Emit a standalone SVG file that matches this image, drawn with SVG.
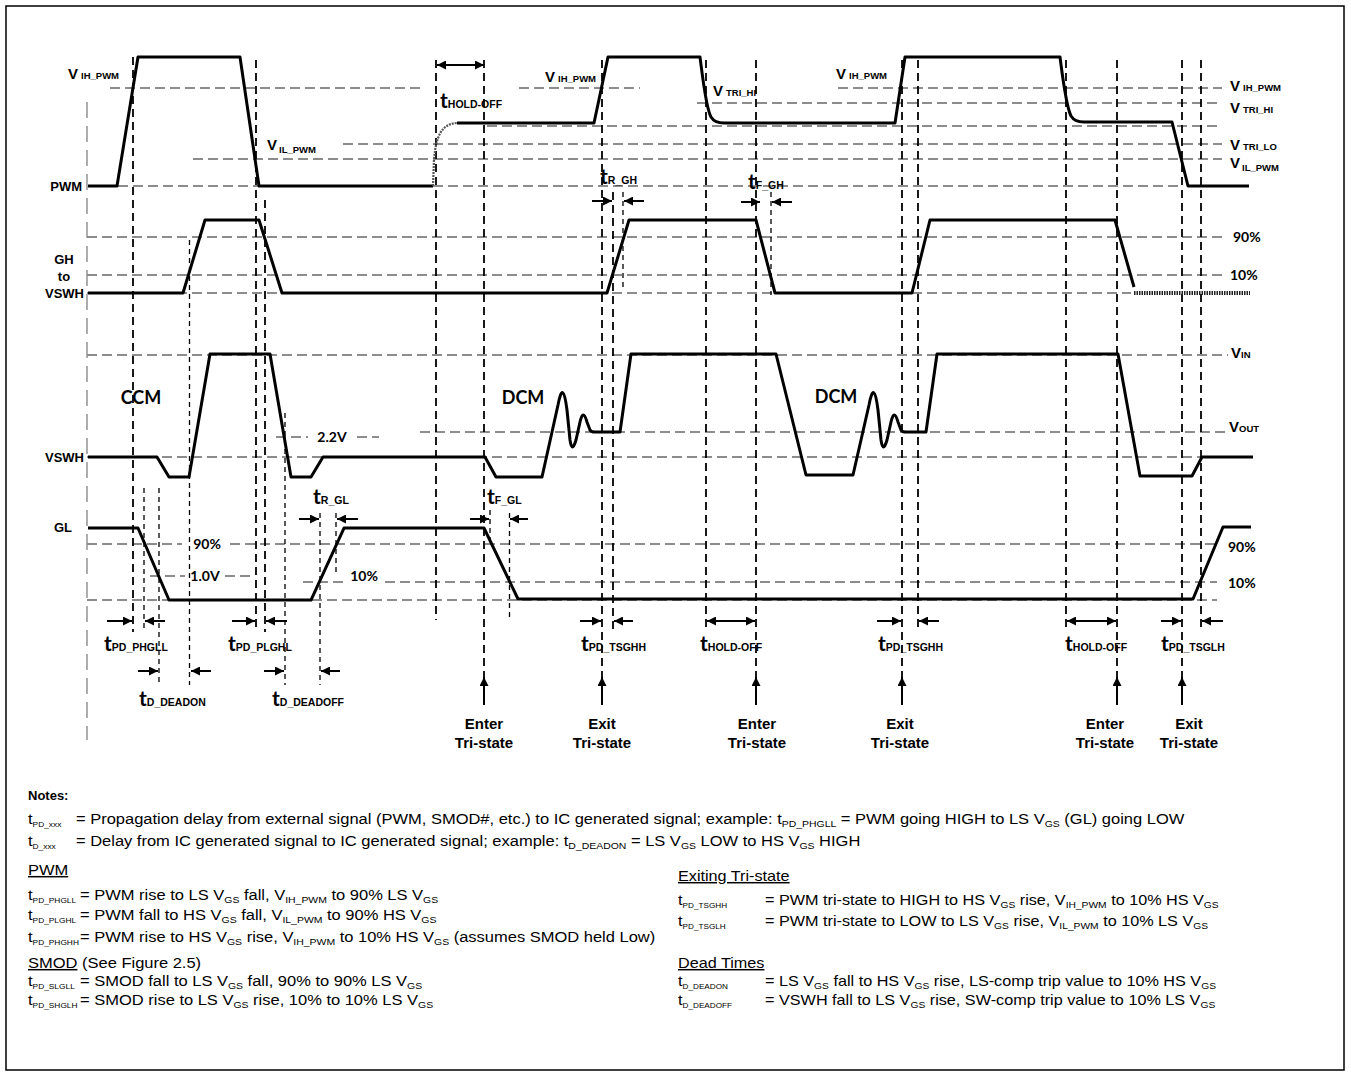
<svg xmlns="http://www.w3.org/2000/svg" width="1351" height="1076" viewBox="0 0 1351 1076">
<style>
.w{fill:none;stroke:#000;stroke-width:3;stroke-linejoin:round}
.g{fill:none;stroke:#8c8c8c;stroke-width:2;stroke-dasharray:10 5}
.v{fill:none;stroke:#000;stroke-width:1.8;stroke-dasharray:8 5}
.vs{fill:none;stroke:#000;stroke-width:1.3;stroke-dasharray:5 4}
.lg{fill:none;stroke:#9a9a9a;stroke-width:1.6;stroke-dasharray:16 8}
.a{fill:none;stroke:#000;stroke-width:2;marker-end:url(#ah)}
.d{fill:none;stroke:#000;stroke-width:2;marker-end:url(#ah);marker-start:url(#ah)}
text{font-family:"Liberation Sans",Arial,sans-serif;fill:#000}
.lb{font-weight:bold;font-size:13px}
.big{font-weight:bold;font-size:15px}
.sm{font-weight:bold;font-size:9.5px}
.tt{font-family:Lato,"Liberation Sans",sans-serif;font-weight:bold;font-size:21px}
.ts{font-weight:bold;font-size:10.5px}
.cal{font-family:Lato,"Liberation Sans",sans-serif;font-weight:bold}
.n{font-size:15px}
.ns{font-size:9.5px}
.nl{font-size:7.6px}
</style>
<defs>
<marker id="ah" viewBox="0 0 10 10" refX="10" refY="5" markerWidth="9" markerHeight="9" markerUnits="userSpaceOnUse" orient="auto-start-reverse"><path d="M0,0 L10,5 L0,10 z" fill="#000"/></marker>
</defs>
<rect x="6" y="6" width="1338" height="1064" fill="#fff" stroke="#000" stroke-width="1.5"/>

<g id="gridlines">
<path class="lg" d="M87,102 V740"/>
<path class="g" d="M110,88 H420 M519,88 H640 M838,88 H1222"/>
<path class="g" d="M697,103 H1222"/>
<path class="g" d="M487,126 H1222"/>
<path class="g" d="M343,144 H1222"/>
<path class="g" d="M193,159 H1222"/>
<path class="g" d="M88,186 H1183"/>
<path class="g" d="M87,237 H1226"/>
<path class="g" d="M87,275 H1226"/>
<path class="g" d="M87,293 H1131"/>
<path class="g" d="M87,355 H1228"/>
<path class="g" d="M420,432 H1228"/>
<path class="g" d="M276,437 H308 M357,437 H379"/>
<path class="g" d="M87,457 H1230"/>
<path class="g" d="M87,544 H182 M230,544 H1217"/>
<path class="g" d="M150,576 H185 M225,576 H250"/>
<path class="g" d="M303,582 H344 M385,582 H1217"/>
<path class="g" d="M87,600 H1217"/>
</g>

<g id="verticals">
<path class="v" d="M133,57 V632 M256,60 V632 M265,200 V632 M436,60 V620 M484,60 V677 M602,60 V677 M613,192 V630 M706,60 V627 M756,60 V677 M902,60 V677 M918,60 V627 M1066,60 V627 M1117,60 V677 M1182,60 V677 M1201,60 V627"/>
<path class="vs" d="M144,488 V630 M159,488 V685 M189.5,240 V685 M285,413 V685 M320,513 V685 M336,513 V575 M490,510 V545 M509.5,513 V620 M623,192 V290 M771,192 V295"/>
</g>

<g id="signal-PWM">
<text class="lb" x="82" y="191" text-anchor="end">PWM</text>
<path class="w" d="M88,186 L117,186 L138,57 L240,57 L259,186 L433,186"/>
<path d="M433,186 L434,160 C436,135 442,124 457,123" fill="none" stroke="#555" stroke-width="2.2" stroke-dasharray="2 1"/>
<path class="w" d="M457,123 L594,123 L608,57 L700,57 C703,80 706,108 711,117 C714,122 718,123 724,123 L895,123 L905,57 L1060,57 C1063,80 1066,106 1071,116 C1074,121 1078,122 1084,122 L1172,122 L1188,186 L1249,186"/>
<text x="68" y="79"><tspan class="big">V</tspan><tspan class="sm" dx="3">IH_PWM</tspan></text>
<text x="267" y="150"><tspan class="big">V</tspan><tspan class="sm" dx="2" dy="3">IL_PWM</tspan></text>
<text x="545" y="82"><tspan class="big">V</tspan><tspan class="sm" dx="3">IH_PWM</tspan></text>
<text x="713" y="96"><tspan class="big">V</tspan><tspan class="sm" dx="3">TRI_HI</tspan></text>
<text x="836" y="79"><tspan class="big">V</tspan><tspan class="sm" dx="3">IH_PWM</tspan></text>
<text x="1230" y="91"><tspan class="big">V</tspan><tspan class="sm" dx="3">IH_PWM</tspan></text>
<text x="1230" y="113"><tspan class="big">V</tspan><tspan class="sm" dx="3">TRI_HI</tspan></text>
<text x="1230" y="150"><tspan class="big">V</tspan><tspan class="sm" dx="3">TRI_LO</tspan></text>
<text x="1230" y="168"><tspan class="big">V</tspan><tspan class="sm" dx="2" dy="3">IL_PWM</tspan></text>
<path class="d" d="M437,65 H484"/>
<text x="440" y="108"><tspan class="tt">t</tspan><tspan class="ts">HOLD-OFF</tspan></text>
</g>

<g id="signal-GH">
<text class="lb" x="64" y="264" text-anchor="middle">GH</text>
<text class="lb" x="64" y="281" text-anchor="middle">to</text>
<text class="lb" x="84" y="298" text-anchor="end">VSWH</text>
<path class="w" d="M88,293 L183,293 L205,220 L259,220 L282,293 L607,293 L629,220 L756,220 L775,293 L912,293 L930,220 L1115,220 L1134,287"/>
<path d="M1134,293 H1250" fill="none" stroke="#222" stroke-width="4" stroke-dasharray="1.5 1"/>
<text class="cal" x="1233" y="242" font-size="14">90%</text>
<text class="cal" x="1230" y="280" font-size="14">10%</text>
<text x="600" y="184"><tspan class="tt">t</tspan><tspan class="ts">R_GH</tspan></text>
<text x="748" y="189"><tspan class="tt">t</tspan><tspan class="ts">F_GH</tspan></text>
<path class="a" d="M592,201 H612"/>
<path class="a" d="M644,201 H624"/>
<path class="a" d="M741,202 H760"/>
<path class="a" d="M792,202 H772"/>
</g>

<g id="signal-VSWH">
<text class="lb" x="84" y="462" text-anchor="end">VSWH</text>
<path class="w" d="M88,457 L157,457 L169,477 L189,477 L210,354 L270,354 L291,477 L311,477 L323,457 L485,457 L496,477 L542,477 L558,405 Q563,378 567,410 L570,440 Q572,454 576,440 L580,422 Q583,408 587,422 L590,430 Q591,432 595,432 L620,432 L631,354 L776,354 L806,475 L853,475 L869,405 Q874,378 878,410 L881,440 Q883,454 887,440 L891,422 Q894,408 898,422 L901,430 Q902,432 906,432 L926,432 L937,354 L1118,354 L1140,476 L1192,476 L1202,457 L1253,457"/>
<text class="cal" x="141" y="404" font-size="18" text-anchor="middle">CCM</text>
<text class="cal" x="523" y="404" font-size="18" text-anchor="middle">DCM</text>
<text class="cal" x="836" y="403" font-size="18" text-anchor="middle">DCM</text>
<text class="cal" x="332" y="442" font-size="14" text-anchor="middle">2.2V</text>
<text x="1231" y="358"><tspan class="big">V</tspan><tspan class="sm">IN</tspan></text>
<text x="1229" y="432"><tspan class="big">V</tspan><tspan class="sm">OUT</tspan></text>
</g>

<g id="signal-GL">
<text class="lb" x="72" y="532" text-anchor="end">GL</text>
<path class="w" d="M88,528 L138,528 L169,600 L311,600 L344,528 L484,528 L518,599 L1193,599 L1223,527 L1251,527"/>
<text class="cal" x="207" y="549" font-size="14" text-anchor="middle">90%</text>
<text class="cal" x="205" y="581" font-size="14" text-anchor="middle">1.0V</text>
<text class="cal" x="364" y="581" font-size="14" text-anchor="middle">10%</text>
<text class="cal" x="1228" y="552" font-size="14">90%</text>
<text class="cal" x="1228" y="588" font-size="14">10%</text>
<text x="313" y="504"><tspan class="tt">t</tspan><tspan class="ts">R_GL</tspan></text>
<text x="487" y="504"><tspan class="tt">t</tspan><tspan class="ts">F_GL</tspan></text>
<path class="a" d="M299,519 H319"/>
<path class="a" d="M358,519 H337"/>
<path class="a" d="M470,519 H489"/>
<path class="a" d="M528,519 H510"/>
</g>

<g id="timing-labels">
<path class="a" d="M107,621 H132"/><path class="a" d="M165,621 H145"/>
<path class="a" d="M232,621 H255"/><path class="a" d="M287,621 H266"/>
<path class="a" d="M138,671 H158"/><path class="a" d="M211,671 H191"/>
<path class="a" d="M264,671 H284"/><path class="a" d="M340,671 H321"/>
<path class="a" d="M580,621 H601"/><path class="a" d="M633,621 H614"/>
<path class="d" d="M707,621 H755"/>
<path class="a" d="M877,621 H901"/><path class="a" d="M939,621 H919"/>
<path class="d" d="M1067,621 H1116"/>
<path class="a" d="M1161,621 H1181"/><path class="a" d="M1223,621 H1202"/>
<text x="104" y="651"><tspan class="tt">t</tspan><tspan class="ts">PD_PHGLL</tspan></text>
<text x="228" y="651"><tspan class="tt">t</tspan><tspan class="ts">PD_PLGHL</tspan></text>
<text x="139" y="706"><tspan class="tt">t</tspan><tspan class="ts">D_DEADON</tspan></text>
<text x="272" y="706"><tspan class="tt">t</tspan><tspan class="ts">D_DEADOFF</tspan></text>
<text x="581" y="651"><tspan class="tt">t</tspan><tspan class="ts">PD_TSGHH</tspan></text>
<text x="700" y="651"><tspan class="tt">t</tspan><tspan class="ts">HOLD-OFF</tspan></text>
<text x="878" y="651"><tspan class="tt">t</tspan><tspan class="ts">PD_TSGHH</tspan></text>
<text x="1065" y="651"><tspan class="tt">t</tspan><tspan class="ts">HOLD-OFF</tspan></text>
<text x="1161" y="651"><tspan class="tt">t</tspan><tspan class="ts">PD_TSGLH</tspan></text>
</g>

<g id="tristate-events">
<path class="a" d="M484,705 V677"/>
<path class="a" d="M602,705 V677"/>
<path class="a" d="M756,705 V677"/>
<path class="a" d="M902,705 V677"/>
<path class="a" d="M1117,705 V677"/>
<path class="a" d="M1182,705 V677"/>
<g text-anchor="middle">
<text class="big" x="484" y="729">Enter</text><text class="big" x="484" y="748">Tri-state</text>
<text class="big" x="602" y="729">Exit</text><text class="big" x="602" y="748">Tri-state</text>
<text class="big" x="757" y="729">Enter</text><text class="big" x="757" y="748">Tri-state</text>
<text class="big" x="900" y="729">Exit</text><text class="big" x="900" y="748">Tri-state</text>
<text class="big" x="1105" y="729">Enter</text><text class="big" x="1105" y="748">Tri-state</text>
<text class="big" x="1189" y="729">Exit</text><text class="big" x="1189" y="748">Tri-state</text>
</g>
</g>

<g id="notes">
<text class="lb" x="28" y="800">Notes:</text>
<g id="notes-left" transform="matrix(1.1,0,0,1,-2.8,0)">
<text class="n" x="28" y="824">t<tspan class="nl" dy="3">PD_xxx</tspan></text>
<text class="n" x="71.6" y="824">= Propagation delay from external signal (PWM, SMOD#, etc.) to IC generated signal; example: t<tspan class="ns" dy="3">PD_PHGLL</tspan><tspan dy="-3"> = PWM going HIGH to LS V</tspan><tspan class="ns" dy="3">GS</tspan><tspan dy="-3"> (GL) going LOW</tspan></text>
<text class="n" x="28" y="846">t<tspan class="nl" dy="3">D_xxx</tspan></text>
<text class="n" x="71.6" y="846">= Delay from IC generated signal to IC generated signal; example: t<tspan class="ns" dy="3">D_DEADON</tspan><tspan dy="-3"> = LS V</tspan><tspan class="ns" dy="3">GS</tspan><tspan dy="-3"> LOW to HS V</tspan><tspan class="ns" dy="3">GS</tspan><tspan dy="-3"> HIGH</tspan></text>

<text class="n" x="28" y="875" text-decoration="underline">PWM</text>
<text class="n" x="28" y="900">t<tspan class="nl" dy="3">PD_PHGLL</tspan></text>
<text class="n" x="75.3" y="900">= PWM rise to LS V<tspan class="ns" dy="3">GS</tspan><tspan dy="-3"> fall, V</tspan><tspan class="ns" dy="3">IH_PWM</tspan><tspan dy="-3"> to 90% LS V</tspan><tspan class="ns" dy="3">GS</tspan></text>
<text class="n" x="28" y="920">t<tspan class="nl" dy="3">PD_PLGHL</tspan></text>
<text class="n" x="75.3" y="920">= PWM fall to HS V<tspan class="ns" dy="3">GS</tspan><tspan dy="-3"> fall, V</tspan><tspan class="ns" dy="3">IL_PWM</tspan><tspan dy="-3"> to 90% HS V</tspan><tspan class="ns" dy="3">GS</tspan></text>
<text class="n" x="28" y="942">t<tspan class="nl" dy="3">PD_PHGHH</tspan></text>
<text class="n" x="75.3" y="942">= PWM rise to HS V<tspan class="ns" dy="3">GS</tspan><tspan dy="-3"> rise, V</tspan><tspan class="ns" dy="3">IH_PWM</tspan><tspan dy="-3"> to 10% HS V</tspan><tspan class="ns" dy="3">GS</tspan><tspan dy="-3"> (assumes SMOD held Low)</tspan></text>

<text class="n" x="28" y="968"><tspan text-decoration="underline">SMOD</tspan> (See Figure 2.5)</text>
<text class="n" x="28" y="986">t<tspan class="nl" dy="3">PD_SLGLL</tspan></text>
<text class="n" x="75.3" y="986">= SMOD fall to LS V<tspan class="ns" dy="3">GS</tspan><tspan dy="-3"> fall, 90% to 90% LS V</tspan><tspan class="ns" dy="3">GS</tspan></text>
<text class="n" x="28" y="1005">t<tspan class="nl" dy="3">PD_SHGLH</tspan></text>
<text class="n" x="75.3" y="1005">= SMOD rise to LS V<tspan class="ns" dy="3">GS</tspan><tspan dy="-3"> rise, 10% to 10% LS V</tspan><tspan class="ns" dy="3">GS</tspan></text>
</g>

<g id="notes-right" transform="matrix(1.08,0,0,1,-54.24,0)">
<text class="n" x="678" y="881" text-decoration="underline">Exiting Tri-state</text>
<text class="n" x="678" y="905">t<tspan class="nl" dy="3">PD_TSGHH</tspan></text>
<text class="n" x="758.6" y="905">= PWM tri-state to HIGH to HS V<tspan class="ns" dy="3">GS</tspan><tspan dy="-3"> rise, V</tspan><tspan class="ns" dy="3">IH_PWM</tspan><tspan dy="-3"> to 10% HS V</tspan><tspan class="ns" dy="3">GS</tspan></text>
<text class="n" x="678" y="926">t<tspan class="nl" dy="3">PD_TSGLH</tspan></text>
<text class="n" x="758.6" y="926">= PWM tri-state to LOW to LS V<tspan class="ns" dy="3">GS</tspan><tspan dy="-3"> rise, V</tspan><tspan class="ns" dy="3">IL_PWM</tspan><tspan dy="-3"> to 10% LS V</tspan><tspan class="ns" dy="3">GS</tspan></text>

<text class="n" x="678" y="968" text-decoration="underline">Dead Times</text>
<text class="n" x="678" y="986">t<tspan class="nl" dy="3">D_DEADON</tspan></text>
<text class="n" x="758.6" y="986">= LS V<tspan class="ns" dy="3">GS</tspan><tspan dy="-3"> fall to HS V</tspan><tspan class="ns" dy="3">GS</tspan><tspan dy="-3"> rise, LS-comp trip value to 10% HS V</tspan><tspan class="ns" dy="3">GS</tspan></text>
<text class="n" x="678" y="1005">t<tspan class="nl" dy="3">D_DEADOFF</tspan></text>
<text class="n" x="758.6" y="1005">= VSWH fall to LS V<tspan class="ns" dy="3">GS</tspan><tspan dy="-3"> rise, SW-comp trip value to 10% LS V</tspan><tspan class="ns" dy="3">GS</tspan></text>
</g>
</g>
</svg>
